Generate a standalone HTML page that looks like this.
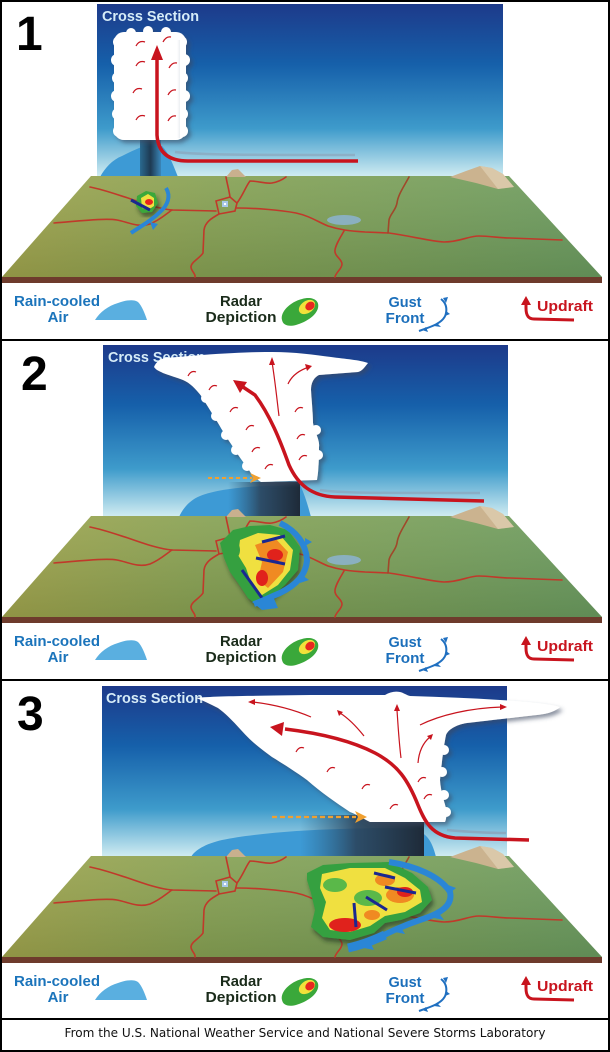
<!DOCTYPE html>
<html><head><meta charset="utf-8"><style>
html,body{margin:0;padding:0;background:#fff;}
svg{display:block;}
</style></head><body>
<svg width="610" height="1052" viewBox="0 0 610 1052" xmlns="http://www.w3.org/2000/svg" font-family="'Liberation Sans', sans-serif">
<defs>
 <linearGradient id="sky" x1="0" y1="0" x2="0" y2="1">
  <stop offset="0" stop-color="#1d3a8a"/>
  <stop offset="0.35" stop-color="#1660aa"/>
  <stop offset="0.72" stop-color="#3e9bcb"/>
  <stop offset="1" stop-color="#d2edf2"/>
 </linearGradient>
 <linearGradient id="gnd" x1="0" y1="0" x2="1" y2="0">
  <stop offset="0" stop-color="#a0a44c"/>
  <stop offset="0.35" stop-color="#86a153"/>
  <stop offset="1" stop-color="#6a9b5f"/>
 </linearGradient>
 <linearGradient id="gndv" x1="0" y1="0" x2="0" y2="1">
  <stop offset="0" stop-color="#ffffff" stop-opacity="0.08"/>
  <stop offset="1" stop-color="#000000" stop-opacity="0.10"/>
 </linearGradient>
 <linearGradient id="shaft" x1="0" y1="0" x2="1" y2="0">
  <stop offset="0" stop-color="#2a5a7a" stop-opacity="0"/>
  <stop offset="0.45" stop-color="#2a3f55" stop-opacity="0.85"/>
  <stop offset="1" stop-color="#1e2a38"/>
 </linearGradient>
 <linearGradient id="shaft1" x1="0" y1="0" x2="1" y2="0">
  <stop offset="0" stop-color="#2a6a90"/>
  <stop offset="0.5" stop-color="#1e3a52"/>
  <stop offset="1" stop-color="#3a86b8"/>
 </linearGradient>
 <linearGradient id="cshade" x1="0" y1="0" x2="1" y2="0">
  <stop offset="0" stop-color="#ffffff"/>
  <stop offset="0.75" stop-color="#ffffff"/>
  <stop offset="1" stop-color="#dfe4ea"/>
 </linearGradient>
 <filter id="cs" x="-10%" y="-10%" width="130%" height="130%">
  <feDropShadow dx="3" dy="3" stdDeviation="2" flood-color="#3a4a60" flood-opacity="0.6"/>
 </filter>
 <filter id="rs" x="-10%" y="-10%" width="130%" height="130%">
  <feDropShadow dx="2" dy="4" stdDeviation="2" flood-color="#203020" flood-opacity="0.6"/>
 </filter>
 <g id="ground">
  <polygon points="2,277 602,277 602,283 2,283" fill="#6e3b2c"/>
  <polygon points="91,176 509,176 602,277 2,277" fill="url(#gnd)"/>
  <polygon points="91,176 509,176 602,277 2,277" fill="url(#gndv)"/>
  <polygon points="226,177 232,170 238,169 246,177" fill="#c9b08e"/>
  <polygon points="450,177 466,171 480,166 492,168 503,174 514,187 498,189 476,183" fill="#cbb38f"/>
  <polygon points="480,166 492,168 503,174 514,187 498,189" fill="#e0d2b4" opacity="0.7"/>
  <ellipse cx="344" cy="220" rx="17" ry="5" fill="#8ab0bf"/>
  <g fill="none" stroke="#c0392a" stroke-width="1.6" stroke-linecap="round">
   <path d="M90,187 C105,190 118,195 128,198 C145,204 160,209 172,210 L216,211 M237,208 C255,208 280,210 296,213 C310,216 318,222 328,226 C340,230 350,231 365,232 L389,233 C410,236 430,241 444,242 C460,242 468,236 479,236 C490,236 500,238 510,238 L562,240"/>
   <path d="M54,223 C80,221 105,218 117,220 C128,222 138,228 150,224 C160,220 166,214 172,210"/>
   <path d="M216,201 L230,197 L237,203 L235,211 L219,214 Z"/>
   <path d="M219,214 C212,218 205,222 204,230 L203,253 C200,258 191,262 191,267 C191,271 196,274 195,277"/>
   <path d="M230,197 C229,190 227,183 226,177"/>
   <path d="M237,203 C243,195 246,186 250,181 C258,181 266,184 272,183 C278,182 282,180 286,177"/>
   <path d="M409,177 C403,188 398,195 397,203 C396,210 390,214 389,220 L388,233" stroke="#a0482a"/>
   <path d="M344,231 C340,238 336,244 335,250 C334,256 342,259 342,264 C342,269 336,272 335,277"/>
  </g>
  <rect x="222" y="201" width="6" height="6" fill="#a8c8e8"/>
  <rect x="224" y="203" width="2" height="2" fill="#fff"/>
 </g>
 <g id="legicons">
  <path d="M95,320 C100,312 108,306 118,303 C126,300 134,299 138,302 C142,306 145,314 147,320 Z" fill="#5aafe0"/>
  <path d="M282,320 C280,312 290,302 302,299 C312,296 320,300 318,308 C316,316 306,322 296,325 C288,327 283,325 282,320 Z" fill="#3aa83a"/>
  <ellipse cx="307" cy="307" rx="9" ry="6" transform="rotate(-35 307 307)" fill="#f2e23a"/>
  <ellipse cx="310" cy="306" rx="5" ry="4" transform="rotate(-35 310 306)" fill="#e8281e"/>
  <path d="M441,299 C446,303 447,308 446,313 C445,320 438,324 430,327 L419,331" fill="none" stroke="#1f6fc0" stroke-width="2"/>
  <polygon points="443,298 448,297 446,303" fill="#1f6fc0"/>
  <polygon points="446,311 450,314 445,316" fill="#1f6fc0"/>
  <polygon points="437,323 441,327 434,326" fill="#1f6fc0"/>
  <polygon points="426,327 428,332 422,330" fill="#1f6fc0"/>
  <path d="M574,320 L534,319 C528,319 526,315 526,308 L526,303" fill="none" stroke="#c8141e" stroke-width="3"/>
  <polygon points="526,296 521,305 531,305" fill="#c8141e"/>
 </g>
</defs>

<!-- frame -->
<rect x="1" y="1" width="608" height="1050" fill="#fff" stroke="#000" stroke-width="2"/>
<line x1="0" y1="340" x2="610" y2="340" stroke="#000" stroke-width="2"/>
<line x1="0" y1="680" x2="610" y2="680" stroke="#000" stroke-width="2"/>
<line x1="0" y1="1019" x2="610" y2="1019" stroke="#000" stroke-width="2"/>

<!-- ================= PANEL 1 ================= -->
<g>
 <rect x="97" y="4" width="406" height="173" fill="url(#sky)"/>
 <text x="102" y="21" font-size="14.5" font-weight="bold" fill="#d6ecf8" textLength="97" lengthAdjust="spacingAndGlyphs">Cross Section</text>
 <path d="M100,177 C105,168 112,160 122,156 C130,152 138,148 145,146 L162,146 C168,152 172,162 178,177 Z" fill="#3d9ad5"/>
 <rect x="140" y="140" width="21" height="37" fill="url(#shaft1)"/>
 <g fill="#fff" filter="url(#cs)">
  <rect x="114" y="32" width="72" height="108" rx="10"/>
  <circle cx="119" cy="42" r="6"/><circle cx="117" cy="60" r="6"/><circle cx="118" cy="78" r="6"/>
  <circle cx="117" cy="96" r="6"/><circle cx="118" cy="114" r="6"/><circle cx="119" cy="131" r="6"/>
  <circle cx="181" cy="42" r="6"/><circle cx="184" cy="60" r="6"/><circle cx="182" cy="78" r="6"/>
  <circle cx="184" cy="96" r="6"/><circle cx="182" cy="114" r="6"/><circle cx="182" cy="131" r="6"/>
  <circle cx="131" cy="33" r="5"/><circle cx="148" cy="31" r="5"/><circle cx="166" cy="32" r="5"/>
 </g>
 <rect x="168" y="40" width="12" height="98" fill="url(#cshade)" opacity="0.6"/>
 <g fill="none" stroke="#c8141e" stroke-width="1.2">
  <path d="M136,46 q3,-6 9,-4"/><path d="M163,42 q3,-6 8,-5"/>
  <path d="M136,66 q3,-6 9,-4"/><path d="M169,68 q3,-6 8,-5"/>
  <path d="M133,93 q3,-6 9,-4"/><path d="M168,95 q3,-6 8,-5"/>
  <path d="M136,120 q3,-6 9,-4"/><path d="M168,121 q3,-6 8,-5"/>
 </g>
 <path d="M175,152 C200,155 250,155 355,155" fill="none" stroke="#8aa0b5" stroke-width="2.5" opacity="0.6"/>
 <path d="M358,161 L188,161 C168,161 158,152 157,135 L157,58" fill="none" stroke="#c8141e" stroke-width="3.5"/>
 <polygon points="157,45 151,60 163,60" fill="#c8141e"/>
 <text x="16" y="50" font-size="48" font-weight="bold" fill="#000">1</text>
 <use href="#ground"/>
 <g filter="url(#rs)">
  <polygon points="137,196 146,191 155,193 158,203 152,212 142,213 136,206" fill="#3aa83a"/>
  <polygon points="141,198 148,194 154,198 154,206 148,210 142,208" fill="#f0e040"/>
  <ellipse cx="149" cy="202" rx="4" ry="3" fill="#e8281e"/>
 </g>
 <path d="M166,188 C171,196 168,205 160,212 C152,220 143,225 131,233" fill="none" stroke="#2a86d6" stroke-width="4"/>
 <polygon points="150,222 158,224 153,230" fill="#2a86d6"/>
 <line x1="131" y1="200" x2="150" y2="210" stroke="#1a2890" stroke-width="3"/>
 <use href="#legicons"/>
 <g font-size="15" font-weight="bold" text-anchor="middle">
  <text x="57" y="306" fill="#1b74bb" textLength="86" lengthAdjust="spacingAndGlyphs">Rain-cooled</text>
  <text x="58" y="322" fill="#1b74bb">Air</text>
  <text x="241" y="306" fill="#1a2b1a" textLength="42" lengthAdjust="spacingAndGlyphs">Radar</text>
  <text x="241" y="322" fill="#1a2b1a" textLength="71" lengthAdjust="spacingAndGlyphs">Depiction</text>
  <text x="405" y="307" fill="#1b6fbb" textLength="33" lengthAdjust="spacingAndGlyphs">Gust</text>
  <text x="405" y="323" fill="#1b6fbb" textLength="39" lengthAdjust="spacingAndGlyphs">Front</text>
  <text x="565" y="311" fill="#c8141e" textLength="56" lengthAdjust="spacingAndGlyphs">Updraft</text>
 </g>
</g>

<!-- ================= PANEL 2 ================= -->
<g transform="translate(0,340)">
 <rect x="103" y="5" width="405" height="172" fill="url(#sky)"/>
 <text x="108" y="22" font-size="14.5" font-weight="bold" fill="#d6ecf8" textLength="97" lengthAdjust="spacingAndGlyphs">Cross Section</text>
 <path d="M179,177 C183,168 190,160 200,156 C215,150 240,147 265,146 L300,145 C305,155 308,166 311,177 Z" fill="#3d9ad5"/>
 <rect x="228" y="142" width="72" height="35" fill="url(#shaft)"/>
 <g fill="#fff" filter="url(#cs)">
  <path d="M154,27 C156,22 160,19 165,18 L202,15 C230,13 250,12 272,12 C295,12 315,15 331,17 C345,19 360,20 368,23 C364,28 362,31 358,32 L319,35 C313,38 311,44 311,50 C312,65 313,75 313,83 C315,93 320,100 319,107 C319,125 318,135 317,140 L261,142 C255,138 251,134 249,130 C243,122 238,115 233,107 C227,98 222,90 218,83 C212,73 206,64 202,57 C195,48 190,43 183,40 C175,37 168,35 163,33 C159,31 156,30 154,27 Z"/>
  <circle cx="206" cy="58" r="5"/><circle cx="216" cy="76" r="5"/><circle cx="226" cy="95" r="5"/>
  <circle cx="236" cy="110" r="5"/><circle cx="247" cy="126" r="5"/><circle cx="316" cy="90" r="5"/><circle cx="318" cy="115" r="5"/>
 </g>
 <g fill="none" stroke="#c8141e" stroke-width="1.2">
  <path d="M188,36 q3,-6 8,-4"/><path d="M209,50 q3,-6 8,-4"/><path d="M230,72 q3,-6 8,-4"/>
  <path d="M246,90 q3,-6 8,-4"/><path d="M252,112 q3,-6 8,-4"/><path d="M265,129 q3,-6 8,-4"/>
  <path d="M295,72 q3,-6 8,-4"/><path d="M297,99 q3,-6 8,-4"/><path d="M299,120 q3,-6 8,-4"/>
  <path d="M279,76 C277,60 275,40 272,22"/>
  <path d="M288,44 C292,35 300,30 309,27"/>
 </g>
 <polygon points="272,17 269,25 275,25" fill="#c8141e"/>
 <polygon points="312,26 305,24 307,31" fill="#c8141e"/>
 <line x1="208" y1="138" x2="252" y2="138" stroke="#f0a030" stroke-width="2" stroke-dasharray="4,3"/>
 <polygon points="261,138 250,133 253,138 250,143" fill="#f0a030"/>
 <path d="M320,150 C340,153 360,153 480,153" fill="none" stroke="#8aa0b5" stroke-width="2.5" opacity="0.6"/>
 <path d="M484,161 L335,157 C312,156 298,145 289,125 C280,100 270,75 255,55 L243,47" fill="none" stroke="#c8141e" stroke-width="3.5"/>
 <polygon points="233,40 247,42 240,53" fill="#c8141e"/>
 <text x="21" y="50" font-size="48" font-weight="bold" fill="#000">2</text>
 <use href="#ground"/>
 <g filter="url(#rs)">
  <polygon points="220,203 233,190 250,186 270,185 288,190 300,207 298,230 285,245 270,258 257,265 248,258 238,243 230,232 224,218" fill="#36a040"/>
  <polygon points="240,200 258,193 280,195 293,210 290,230 278,245 262,255 252,246 246,228 238,215" fill="#f0e040"/>
  <polygon points="255,205 275,198 288,212 283,232 268,248 258,240 262,222" fill="#f08a20"/>
  <ellipse cx="275" cy="215" rx="8" ry="6" fill="#e0201a"/>
  <ellipse cx="262" cy="238" rx="6" ry="8" fill="#e0201a"/>
  <ellipse cx="232" cy="210" rx="8" ry="10" fill="#36a040"/>
 </g>
 <g stroke="#1a2890" stroke-width="3">
  <line x1="262" y1="202" x2="285" y2="196"/>
  <line x1="256" y1="218" x2="285" y2="224"/>
  <line x1="242" y1="230" x2="262" y2="258"/>
 </g>
 <path d="M280,183 C298,192 306,205 307,220 C306,235 296,245 280,253 C268,258 260,262 254,264" fill="none" stroke="#2a86d6" stroke-width="6"/>
 <polygon points="252,262 272,254 278,268 262,270" fill="#2a86d6"/>
 <polygon points="305,198 312,202 305,206" fill="#2a86d6"/>
 <polygon points="302,235 309,240 300,243" fill="#2a86d6"/>
 <use href="#legicons"/>
 <g font-size="15" font-weight="bold" text-anchor="middle">
  <text x="57" y="306" fill="#1b74bb" textLength="86" lengthAdjust="spacingAndGlyphs">Rain-cooled</text>
  <text x="58" y="322" fill="#1b74bb">Air</text>
  <text x="241" y="306" fill="#1a2b1a" textLength="42" lengthAdjust="spacingAndGlyphs">Radar</text>
  <text x="241" y="322" fill="#1a2b1a" textLength="71" lengthAdjust="spacingAndGlyphs">Depiction</text>
  <text x="405" y="307" fill="#1b6fbb" textLength="33" lengthAdjust="spacingAndGlyphs">Gust</text>
  <text x="405" y="323" fill="#1b6fbb" textLength="39" lengthAdjust="spacingAndGlyphs">Front</text>
  <text x="565" y="311" fill="#c8141e" textLength="56" lengthAdjust="spacingAndGlyphs">Updraft</text>
 </g>
</g>

<!-- ================= PANEL 3 ================= -->
<g transform="translate(0,680)">
 <rect x="102" y="6" width="405" height="171" fill="url(#sky)"/>
 <text x="106" y="23" font-size="14.5" font-weight="bold" fill="#d6ecf8" textLength="97" lengthAdjust="spacingAndGlyphs">Cross Section</text>
 <path d="M191,177 C195,170 205,164 222,160 C250,154 300,150 340,149 C370,148 390,148 410,149 C425,150 432,160 436,177 Z" fill="#3d9ad5"/>
 <rect x="300" y="135" width="124" height="42" fill="url(#shaft)"/>
 <g fill="#fff" filter="url(#cs)">
  <path d="M196,18 C215,16 250,16 311,15 C340,15 370,15 385,15 C390,12 395,11 400,12 C404,13 406,15 410,16 C440,17 470,18 500,20 C530,22 550,24 560,27 C556,31 548,34 537,35 C510,38 485,41 467,43 C455,45 448,50 446,55 C444,65 442,80 440,100 C441,115 446,125 447,133 C446,138 446,140 445,142 L370,142 C362,138 356,134 350,132 C335,122 322,113 307,100 C296,92 285,85 272,77 C258,67 250,60 241,50 C232,40 225,33 218,28 C210,24 202,20 196,18 Z"/>
  <circle cx="444" cy="70" r="5"/><circle cx="442" cy="92" r="5"/><circle cx="444" cy="115" r="5"/><circle cx="446" cy="132" r="5"/>
 </g>
 <g fill="none" stroke="#c8141e" stroke-width="1.2">
  <path d="M296,72 q3,-6 8,-4"/><path d="M327,92 q3,-6 8,-4"/><path d="M362,109 q3,-6 8,-4"/>
  <path d="M390,129 q3,-6 8,-4"/><path d="M418,102 q3,-6 8,-4"/><path d="M424,119 q3,-6 8,-4"/>
  <path d="M311,37 C290,28 270,24 253,22"/>
  <path d="M364,56 C356,46 348,38 340,33"/>
  <path d="M401,78 C399,62 398,45 397,30"/>
  <path d="M420,45 C440,35 470,28 502,27"/>
  <path d="M418,83 C419,70 424,62 430,57"/>
 </g>
 <polygon points="248,22 255,19 255,25" fill="#c8141e"/>
 <polygon points="337,30 343,32 339,36" fill="#c8141e"/>
 <polygon points="397,24 394,31 400,31" fill="#c8141e"/>
 <polygon points="507,27 500,24 500,30" fill="#c8141e"/>
 <polygon points="433,54 427,56 431,60" fill="#c8141e"/>
 <line x1="272" y1="137" x2="356" y2="137" stroke="#f0a030" stroke-width="2.2" stroke-dasharray="5,3"/>
 <polygon points="367,137 355,131 358,137 355,143" fill="#f0a030"/>
 <path d="M447,150 C470,152 490,153 506,153" fill="none" stroke="#8aa0b5" stroke-width="2.5" opacity="0.7"/>
 <path d="M529,160 L455,158 C432,156 425,142 418,125 C408,100 398,85 375,73 C350,60 318,53 285,49" fill="none" stroke="#c8141e" stroke-width="3.5"/>
 <polygon points="270,47 284,42 282,56" fill="#c8141e"/>
 <text x="17" y="50" font-size="48" font-weight="bold" fill="#000">3</text>
 <use href="#ground"/>
 <g filter="url(#rs)">
  <polygon points="307,193 323,185 350,183 389,182 412,193 428,207 432,220 420,233 401,240 385,243 374,253 350,260 323,257 311,247 315,230 311,213 307,200" fill="#36a040"/>
  <polygon points="322,194 350,188 385,188 405,198 420,210 422,222 405,232 385,236 370,246 350,252 330,250 322,238 326,222 320,208" fill="#f0e040"/>
  <ellipse cx="335" cy="205" rx="12" ry="7" fill="#5ab848"/>
  <ellipse cx="368" cy="218" rx="14" ry="8" fill="#5ab848"/>
  <ellipse cx="345" cy="245" rx="16" ry="7" fill="#e0201a"/>
  <ellipse cx="400" cy="215" rx="14" ry="8" fill="#f08a20"/>
  <ellipse cx="405" cy="212" rx="8" ry="5" fill="#e0201a"/>
  <ellipse cx="385" cy="200" rx="10" ry="6" fill="#f08a20"/>
  <ellipse cx="372" cy="235" rx="8" ry="5" fill="#f08a20"/>
 </g>
 <g stroke="#1a2890" stroke-width="3">
  <line x1="354" y1="223" x2="356" y2="247"/>
  <line x1="366" y1="217" x2="387" y2="230"/>
  <line x1="385" y1="207" x2="416" y2="213"/>
  <line x1="374" y1="193" x2="395" y2="198"/>
 </g>
 <path d="M389,182 C415,186 440,196 450,212 C453,225 442,233 420,240 C402,246 390,252 378,258" fill="none" stroke="#2a86d6" stroke-width="6"/>
 <path d="M385,255 C370,262 358,266 348,268" fill="none" stroke="#2a86d6" stroke-width="9"/>
 <polygon points="448,205 456,208 450,213" fill="#2a86d6"/>
 <polygon points="438,232 444,240 434,238" fill="#2a86d6"/>
 <polygon points="400,246 405,254 395,252" fill="#2a86d6"/>
 <polygon points="370,262 374,270 364,268" fill="#2a86d6"/>
 <use href="#legicons"/>
 <g font-size="15" font-weight="bold" text-anchor="middle">
  <text x="57" y="306" fill="#1b74bb" textLength="86" lengthAdjust="spacingAndGlyphs">Rain-cooled</text>
  <text x="58" y="322" fill="#1b74bb">Air</text>
  <text x="241" y="306" fill="#1a2b1a" textLength="42" lengthAdjust="spacingAndGlyphs">Radar</text>
  <text x="241" y="322" fill="#1a2b1a" textLength="71" lengthAdjust="spacingAndGlyphs">Depiction</text>
  <text x="405" y="307" fill="#1b6fbb" textLength="33" lengthAdjust="spacingAndGlyphs">Gust</text>
  <text x="405" y="323" fill="#1b6fbb" textLength="39" lengthAdjust="spacingAndGlyphs">Front</text>
  <text x="565" y="311" fill="#c8141e" textLength="56" lengthAdjust="spacingAndGlyphs">Updraft</text>
 </g>
</g>

<!-- caption -->
<text x="305" y="1037" font-family="'DejaVu Sans', 'Liberation Sans', sans-serif" font-size="12" fill="#111" text-anchor="middle" textLength="481" lengthAdjust="spacingAndGlyphs">From the U.S. National Weather Service and National Severe Storms Laboratory</text>
</svg>
</body></html>
